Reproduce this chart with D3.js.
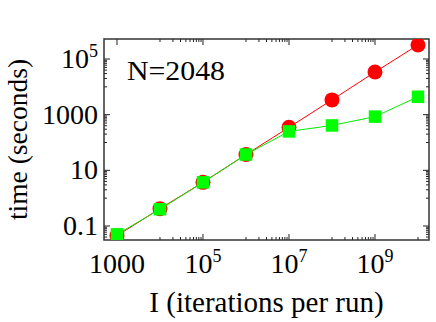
<!DOCTYPE html>
<html>
<head>
<meta charset="utf-8">
<script src="https://cdn.jsdelivr.net/npm/d3@7"></script>
<style>
  body { margin: 0; background: #fff; }
  text { font-family: "Liberation Serif", "DejaVu Serif", serif; fill: #000; }
</style>
</head>
<body>
<div id="chart"></div>
<script>
// iterations per run
const iterations = [1e3, 1e4, 1e5, 1e6, 1e7, 1e8, 1e9, 1e10];
// time in seconds, red circles
const timeRed = [0.045, 0.42, 3.7, 37, 350, 3400, 34000, 320000];
// time in seconds, green squares
const timeGreen = [0.05, 0.4, 3.7, 37, 250, 410, 850, 4400];

const xTicks = [1e3, 1e5, 1e7, 1e9];
const xTickLabels = [["1000", ""], ["10", "5"], ["10", "7"], ["10", "9"]];
const yTicks = [0.1, 10, 1e3, 1e5];
const yTickLabels = [["0.1", ""], ["10", ""], ["1000", ""], ["10", "5"]];

const margin = {top: 39, right: 7, bottom: 82, left: 104},
  width = 436 - margin.left - margin.right,
  height = 322 - margin.top - margin.bottom;

const svg = d3.select("#chart")
  .append("svg")
  .attr("width", 436)
  .attr("height", 322);

const g = svg.append("g")
  .attr("transform", `translate(${margin.left}, ${margin.top})`);

const x = d3.scaleLog()
  .domain([Math.pow(10, 2.698), Math.pow(10, 10.256)])
  .range([0, width]);

const y = d3.scaleLog()
  .domain([Math.pow(10, -1.503), Math.pow(10, 5.719)])
  .range([height, 0]);

// minor ticks sit in the decade just above each odd exponent
function minors(scale, exps) {
  let out = [];
  exps.forEach(function (e) {
    for (let j = 1; j <= 9; j++) {
      const v = j * Math.pow(10, e);
      const d = scale.domain();
      if (v > d[0] && v < d[1]) out.push(v);
    }
  });
  return out;
}
const xMinor = minors(x, [4, 6, 8, 10]);
const yMinor = minors(y, [-2, 0, 2, 4]);

const tickColor = "#222";

// ticks, inward on all four sides
function vTicks(vals, len) {
  vals.forEach(function (v) {
    g.append("line").attr("x1", x(v)).attr("x2", x(v))
      .attr("y1", height).attr("y2", height - len)
      .attr("stroke", tickColor).attr("stroke-width", 1);
    g.append("line").attr("x1", x(v)).attr("x2", x(v))
      .attr("y1", 0).attr("y2", len)
      .attr("stroke", tickColor).attr("stroke-width", 1);
  });
}
function hTicks(vals, len) {
  vals.forEach(function (v) {
    g.append("line").attr("x1", 0).attr("x2", len)
      .attr("y1", y(v)).attr("y2", y(v))
      .attr("stroke", tickColor).attr("stroke-width", 1);
    g.append("line").attr("x1", width).attr("x2", width - len)
      .attr("y1", y(v)).attr("y2", y(v))
      .attr("stroke", tickColor).attr("stroke-width", 1);
  });
}
vTicks(xMinor, 3);
vTicks(xTicks, 6);
hTicks(yMinor, 3);
hTicks(yTicks, 6);

// frame
g.append("rect")
  .attr("x", 0).attr("y", 0)
  .attr("width", width).attr("height", height)
  .attr("fill", "none")
  .attr("stroke", "#333")
  .attr("stroke-width", 1.5);

// tick labels
const fs = 28;
xTicks.forEach(function (v, i) {
  const t = g.append("text")
    .attr("x", x(v))
    .attr("y", height + 33)
    .attr("text-anchor", "middle")
    .style("font-size", fs + "px");
  t.append("tspan").text(xTickLabels[i][0]);
  if (xTickLabels[i][1]) {
    t.append("tspan").attr("dy", -11).style("font-size", "18px").text(xTickLabels[i][1]);
  }
});
yTicks.forEach(function (v, i) {
  const t = g.append("text")
    .attr("x", -6)
    .attr("y", y(v) + 9)
    .attr("text-anchor", "end")
    .style("font-size", fs + "px");
  t.append("tspan").text(yTickLabels[i][0]);
  if (yTickLabels[i][1]) {
    t.append("tspan").attr("dy", -11).style("font-size", "18px").text(yTickLabels[i][1]);
  }
});

// axis titles
svg.append("text")
  .attr("x", margin.left + width / 2)
  .attr("y", 312)
  .attr("text-anchor", "middle")
  .style("font-size", "29px")
  .text("I (iterations per run)");

svg.append("text")
  .attr("transform", `translate(27, ${margin.top + height / 2}) rotate(-90)`)
  .attr("text-anchor", "middle")
  .style("font-size", "27.5px")
  .text("time (seconds)");

g.append("text")
  .attr("x", 23)
  .attr("y", 41)
  .style("font-size", "28px")
  .attr("textLength", 98)
  .attr("lengthAdjust", "spacingAndGlyphs")
  .text("N=2048");

// clip markers to the frame
svg.append("clipPath").attr("id", "clip")
  .append("rect").attr("width", width).attr("height", height);
const plot = g.append("g").attr("clip-path", "url(#clip)");

const line = d3.line()
  .x(function (d) { return x(d[0]); })
  .y(function (d) { return y(d[1]); });

const redData = iterations.map(function (v, i) { return [v, timeRed[i]]; });
const greenData = iterations.map(function (v, i) { return [v, timeGreen[i]]; });

plot.append("path").datum(redData)
  .attr("d", line).attr("fill", "none")
  .attr("stroke", "#ff0000").attr("stroke-width", 1);

plot.selectAll(".red")
  .data(redData)
  .join("circle")
  .attr("class", "red")
  .attr("cx", function (d) { return x(d[0]); })
  .attr("cy", function (d) { return y(d[1]); })
  .attr("r", 7.5)
  .attr("fill", "#ff0000");

plot.append("path").datum(greenData)
  .attr("d", line).attr("fill", "none")
  .attr("stroke", "#00ee00").attr("stroke-width", 1);

const sq = 12.5;
plot.selectAll(".green")
  .data(greenData)
  .join("rect")
  .attr("class", "green")
  .attr("x", function (d) { return x(d[0]) - sq / 2; })
  .attr("y", function (d) { return y(d[1]) - sq / 2; })
  .attr("width", sq)
  .attr("height", sq)
  .attr("fill", "#00ff00");
</script>
</body>
</html>
